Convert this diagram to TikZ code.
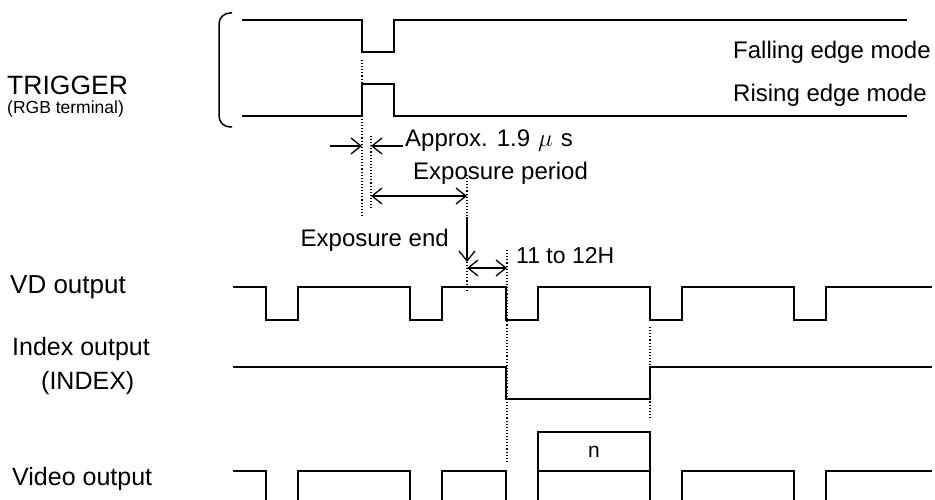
\documentclass[tikz,border=0pt]{standalone}
\usepackage{fontspec}
\setmainfont{Liberation Sans}
\usetikzlibrary{arrows.meta}
\begin{document}
\begin{tikzpicture}[x=1pt,y=-1pt,
  wave/.style={line width=1.7pt,line join=miter},
  guide/.style={line width=1.1pt,dotted},
  dim/.style={line width=1.3pt},
  barb/.style={-{Straight Barb[length=10pt,width=16pt,line width=1.3pt]}},
  dbarb/.style={{Straight Barb[length=10pt,width=16pt,line width=1.3pt]}-{Straight Barb[length=10pt,width=16pt,line width=1.3pt]}},
  lbl/.style={inner sep=0pt,anchor=west,font=\fontsize{25}{27}\selectfont},
  mlbl/.style={inner sep=0pt,anchor=west,font=\fontsize{24}{26}\selectfont},
  slbl/.style={inner sep=0pt,anchor=west,font=\fontsize{23}{25}\selectfont},
  tlbl/.style={inner sep=0pt,anchor=west,font=\fontsize{17.5}{20}\selectfont}]
\useasboundingbox (0,0) rectangle (935,500);

% labels
\node[inner sep=0pt,anchor=west,font=\fontsize{26.5}{28}\selectfont] (trig) at (7,85) {TRIGGER};
\node[tlbl] (rgb) at (7,109) {(RGB terminal)};
\node[inner sep=0pt,anchor=west,font=\fontsize{26}{28}\selectfont] (vd) at (10,287) {VD output};
\node[lbl] (idx) at (12,349) {Index output};
\node[lbl] (idx2) at (41,383) {(INDEX)};
\node[lbl] (vid) at (12,479) {Video output};
\node[mlbl] (fall) at (733,52) {Falling edge mode};
\node[mlbl] (rise) at (733,95) {Rising edge mode};

% bracket
\draw[line width=1.5pt,rounded corners=11pt] (232,13) -- (219,13) -- (219,127) -- (232,127);

% trigger waves
\draw[wave] (242,20) -- (362,20) -- (362,52) -- (394,52) -- (394,20) -- (907,20);
\draw[wave] (242,116) -- (362,116) -- (362,84) -- (394,84) -- (394,116) -- (907,116);

% VD output
\draw[wave] (233,287) -- (266,287) -- (266,320) -- (298,320) -- (298,287)
  -- (410,287) -- (410,320) -- (442,320) -- (442,287)
  -- (506,287) -- (506,320) -- (538,320) -- (538,287)
  -- (650,287) -- (650,320) -- (682,320) -- (682,287)
  -- (794,287) -- (794,320) -- (826,320) -- (826,287) -- (932,287);

% Index output
\draw[wave] (233,367) -- (506,367) -- (506,399) -- (650,399) -- (650,367) -- (932,367);

% Video output
\draw[wave] (233,471) -- (266,471) -- (266,502);
\draw[wave] (298,502) -- (298,471) -- (410,471) -- (410,502);
\draw[wave] (442,502) -- (442,471) -- (506,471) -- (506,502);
\draw[wave] (538,502) -- (538,471) -- (650,471) -- (650,502);
\draw[wave] (682,502) -- (682,471) -- (794,471) -- (794,502);
\draw[wave] (826,502) -- (826,471) -- (932,471);
\node[wave,draw,minimum width=112pt,minimum height=39pt,inner sep=0pt,
  font=\fontsize{21}{23}\selectfont] (nbox) at (594,451.5) {n};

% guide lines
\draw[guide] (362,60) -- (362,218);
\draw[guide] (371,136) -- (371,209);
\draw[guide] (467,175) -- (467,292);
\draw[guide] (507,250) -- (507,463);
\draw[guide] (650,327) -- (650,420);

% dimension coordinates
\coordinate (a1) at (330,146);
\coordinate (a2) at (362,146);
\coordinate (a3) at (403,146);
\coordinate (a4) at (371,146);
\coordinate (e1) at (371,196);
\coordinate (e2) at (467,196);
\coordinate (d1) at (467,217);
\coordinate (d2) at (467,262);
\coordinate (h1) at (467,268);
\coordinate (h2) at (507,268);

\draw[dim,barb] (a1) -- (a2);
\draw[dim,barb] (a3) -- (a4);
\draw[dim,dbarb] (e1) -- (e2);
\draw[dim,barb] (d1) -- (d2);
\draw[dim,dbarb] (h1) -- (h2);

\node[mlbl] (approx) at (405,141) {Approx. 1.9\,\,$\mu$\,\,s};
\node[mlbl] (expp) at (413,173) {Exposure period};
\node[mlbl,anchor=east] (expe) at (449,240) {Exposure end};
\node[slbl] (h1112) at (516,256) {11 to 12H};
\end{tikzpicture}
\end{document}
